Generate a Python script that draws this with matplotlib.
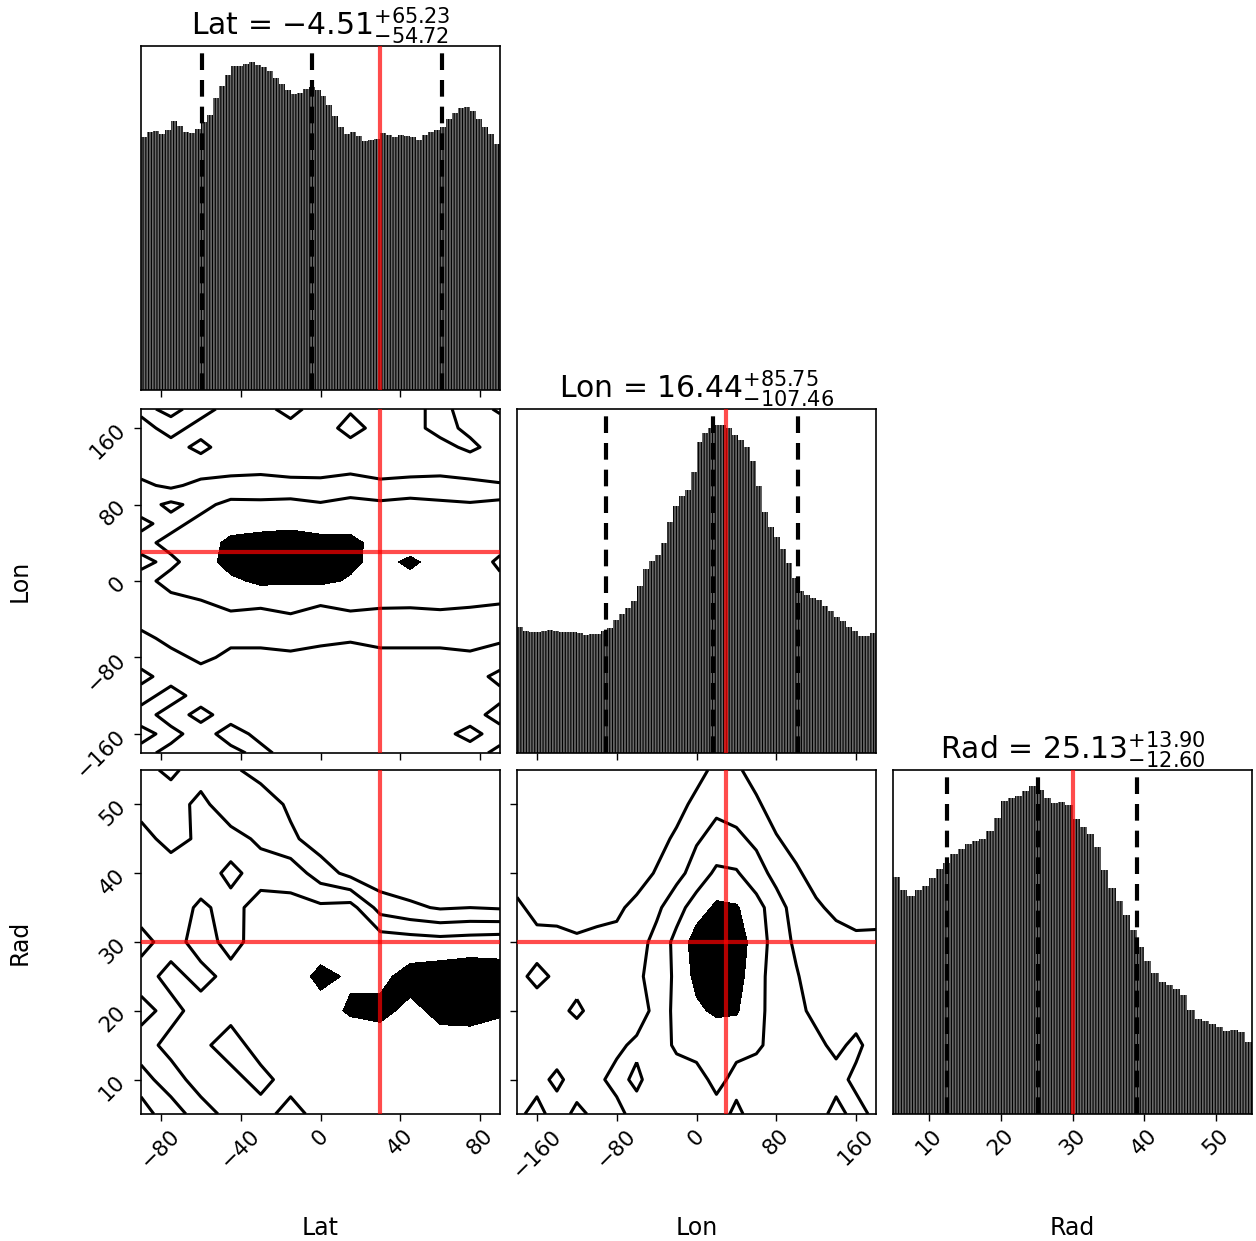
import numpy as np
import matplotlib
matplotlib.use("Agg")
import matplotlib.pyplot as plt

# --------------------------------
# Datos
# --------------------------------
labels = ["Lat", "Lon", "Rad"]
truths = [30, 30, 30]
ranges = [(-90, 90), (-180, 180), (5, 55)]
ticks = [[-80, -40, 0, 40, 80], [-160, -80, 0, 80, 160], [10, 20, 30, 40, 50]]
medians = [-4.51, 16.44, 25.13]
err_lo = [54.72, 107.46, 12.60]
err_hi = [65.23, 85.75, 13.90]

# histogramas 1D (altura relativa por bin)
lat_hist = [253, 258, 259, 256, 260, 269, 264, 258, 257, 261, 268, 275, 292, 304, 315,
            324, 324, 326, 328, 325, 323, 319, 312, 306, 300, 296, 297, 301, 303, 300,
            294, 285, 274, 263, 256, 258, 254, 249, 250, 251, 257, 255, 253, 255, 254,
            253, 250, 255, 258, 260, 263, 271, 277, 282, 283, 279, 271, 263, 256, 246]
lon_hist = [377, 365, 361, 361, 364, 367, 365, 361, 361, 361, 359, 354, 355, 357, 364,
            374, 396, 414, 432, 454, 499, 549, 574, 593, 629, 689, 739, 767, 787, 839,
            929, 957, 971, 979, 979, 971, 951, 934, 914, 874, 799, 719, 674, 644, 609,
            569, 524, 484, 471, 464, 457, 439, 423, 407, 394, 377, 364, 351, 349, 359]
rad_hist = [707, 669, 651, 669, 679, 704, 731, 749, 774, 791, 805, 814, 821, 844, 884,
            934, 941, 949, 964, 977, 967, 941, 927, 929, 921, 879, 857, 834, 797, 729,
            674, 634, 594, 549, 499, 457, 419, 394, 384, 374, 354, 311, 284, 277, 269,
            259, 249, 251, 244, 214]
hists = [lat_hist, lon_hist, rad_hist]

# rejillas de densidad 2D (filas de arriba hacia abajo)
lat_grid = [-90, -75, -60, -45, -30, -15, 0, 15, 30, 45, 60, 75, 90]
lon_grid = [-180, -160, -140, -120, -100, -80, -60, -40, -20, 0, 20, 40, 60, 80, 100, 120, 140, 160, 180]
rad_grid = [5, 10, 15, 20, 25, 30, 35, 40, 45, 50, 55]

# Lat (x) vs Lon (y), filas Lon 180 -> -180
dens_lat_lon = [
    [0.8, 1.2, 0.7, 1.3, 1.2, 0.8, 1.3, 1.1, 1.4, 1.2, 0.8, 1.3, 0.9],
    [1.3, 0.7, 1.3, 1.2, 1.3, 1.2, 1.4, 0.7, 1.3, 1.3, 0.7, 1.2, 1.3],
    [1.2, 1.3, 0.8, 1.4, 1.3, 1.5, 1.4, 1.3, 1.2, 1.4, 1.3, 0.8, 1.4],
    [1.6, 1.7, 1.4, 1.8, 1.7, 1.6, 1.7, 1.8, 1.6, 1.5, 1.7, 1.6, 1.4],
    [2.2, 1.8, 2.3, 2.2, 2.4, 2.3, 2.2, 2.3, 2.2, 2.4, 2.3, 2.2, 2.1],
    [2.6, 3.2, 2.7, 3.3, 3.2, 3.3, 3.1, 3.4, 3.2, 3.3, 3.2, 3.1, 3.3],
    [3.2, 2.7, 3.3, 3.5, 3.6, 3.7, 3.5, 3.6, 3.4, 3.5, 3.4, 3.6, 3.2],
    [2.7, 3.3, 3.4, 4.3, 4.5, 4.6, 4.4, 4.3, 3.6, 3.5, 3.6, 3.5, 3.4],
    [3.2, 2.8, 3.5, 4.4, 4.6, 4.5, 4.3, 4.2, 3.7, 4.2, 3.6, 3.6, 2.8],
    [2.7, 3.3, 3.2, 3.8, 4.2, 4.1, 4.2, 3.9, 3.6, 3.7, 3.5, 3.6, 3.2],
    [2.6, 2.8, 3.0, 3.4, 3.3, 3.5, 3.2, 3.4, 3.3, 3.2, 3.4, 3.3, 3.1],
    [2.4, 2.3, 2.6, 2.7, 2.6, 2.8, 2.5, 2.7, 2.6, 2.7, 2.6, 2.5, 2.6],
    [1.7, 2.3, 2.4, 2.2, 2.3, 2.4, 2.2, 2.1, 2.3, 2.2, 2.3, 2.4, 2.2],
    [1.3, 1.7, 2.2, 1.8, 1.7, 1.8, 1.7, 1.6, 1.7, 1.8, 1.7, 1.8, 1.4],
    [0.8, 1.3, 1.6, 1.2, 1.5, 1.5, 1.6, 1.5, 1.6, 1.5, 1.4, 1.3, 0.8],
    [1.3, 0.7, 1.3, 1.2, 1.6, 1.5, 1.5, 1.6, 1.5, 1.5, 1.6, 1.4, 1.2],
    [0.7, 1.3, 0.8, 1.3, 1.4, 1.5, 1.6, 1.5, 1.6, 1.4, 1.5, 1.3, 0.7],
    [1.2, 0.8, 1.3, 0.7, 1.2, 1.5, 1.5, 1.4, 1.5, 1.5, 1.2, 0.8, 1.3],
    [0.8, 1.2, 1.3, 1.2, 0.8, 1.3, 1.4, 1.5, 1.4, 1.2, 1.3, 1.3, 0.8],
]

# Lat (x) vs Rad (y), filas Rad 55 -> 5
dens_lat_rad = [
    [1.3, 0.8, 1.5, 1.2, 0.6, 0.3, 0.2, 0.1, 0.0, 0.0, 0.0, 0.0, 0.0],
    [1.6, 1.5, 2.3, 1.3, 1.6, 0.8, 0.3, 0.2, 0.1, 0.0, 0.0, 0.0, 0.0],
    [2.4, 1.6, 2.2, 2.4, 1.8, 1.2, 0.5, 0.3, 0.1, 0.1, 0.0, 0.0, 0.0],
    [2.3, 2.6, 2.4, 3.3, 2.5, 2.6, 1.5, 0.7, 0.3, 0.2, 0.1, 0.1, 0.1],
    [2.6, 2.4, 3.2, 2.6, 3.5, 3.3, 3.2, 3.4, 1.6, 1.2, 0.9, 1.0, 0.9],
    [3.3, 2.6, 3.4, 2.7, 3.4, 3.5, 3.6, 3.7, 3.6, 3.5, 3.4, 3.5, 3.6],
    [2.6, 3.3, 2.7, 3.3, 3.5, 3.6, 4.2, 3.9, 3.8, 4.3, 4.5, 4.6, 4.4],
    [3.3, 2.7, 3.4, 3.3, 3.6, 3.4, 3.7, 4.1, 4.2, 3.8, 4.2, 4.4, 4.1],
    [2.6, 3.3, 3.2, 2.6, 3.4, 3.3, 3.6, 3.5, 3.6, 3.4, 3.7, 3.5, 3.6],
    [3.3, 2.6, 3.4, 3.3, 2.7, 3.4, 3.3, 3.6, 3.4, 3.3, 3.4, 3.6, 3.2],
    [2.7, 3.4, 2.6, 3.3, 3.4, 2.6, 3.4, 3.3, 3.4, 3.5, 3.3, 3.6, 3.4],
]

# Lon (x) vs Rad (y), filas Rad 55 -> 5
dens_lon_rad = [
    [0.1, 0.0, 0.0, 0.0, 0.0, 0.0, 0.0, 0.0, 0.2, 0.6, 1.3, 1.2, 0.5, 0.1, 0.0, 0.0, 0.0, 0.0, 0.0],
    [0.2, 0.1, 0.0, 0.0, 0.0, 0.0, 0.0, 0.2, 0.6, 1.3, 1.8, 1.6, 1.2, 0.4, 0.1, 0.0, 0.0, 0.0, 0.0],
    [0.2, 0.1, 0.1, 0.0, 0.0, 0.0, 0.2, 0.6, 1.2, 1.9, 2.3, 2.2, 1.8, 1.1, 0.5, 0.1, 0.0, 0.0, 0.0],
    [0.3, 0.2, 0.1, 0.1, 0.1, 0.2, 0.5, 1.1, 1.7, 2.4, 3.2, 3.1, 2.4, 1.7, 1.2, 0.5, 0.2, 0.1, 0.1],
    [1.3, 0.5, 0.3, 0.4, 0.5, 0.8, 1.3, 1.8, 2.6, 3.5, 4.2, 4.1, 3.4, 2.4, 1.6, 1.2, 0.7, 0.4, 0.3],
    [1.4, 1.5, 1.6, 1.2, 1.4, 1.3, 1.6, 2.3, 3.3, 4.5, 4.8, 4.6, 3.5, 2.6, 1.8, 1.3, 1.5, 1.3, 1.4],
    [1.3, 0.7, 1.2, 1.4, 1.3, 1.5, 1.8, 2.4, 3.2, 4.3, 4.6, 4.4, 3.4, 2.5, 2.1, 1.4, 1.6, 1.7, 1.5],
    [1.4, 1.6, 1.3, 0.8, 1.4, 1.6, 1.5, 2.3, 3.3, 3.8, 4.2, 4.1, 3.3, 2.6, 2.2, 1.8, 1.3, 1.6, 1.4],
    [1.6, 1.3, 1.5, 1.7, 1.6, 1.8, 2.2, 2.4, 3.2, 3.4, 3.2, 3.3, 3.2, 2.6, 2.3, 2.2, 1.8, 2.2, 1.6],
    [1.5, 1.7, 2.2, 1.6, 1.8, 2.3, 1.8, 2.5, 2.4, 2.6, 3.3, 2.7, 2.4, 2.8, 2.3, 2.6, 2.3, 1.8, 1.6],
    [1.8, 2.3, 1.6, 2.2, 1.8, 1.7, 2.4, 2.3, 2.8, 2.4, 2.6, 3.2, 2.6, 2.3, 2.2, 2.4, 1.7, 2.3, 1.8],
]

grids = {(1, 0): (lat_grid, lon_grid[::-1], dens_lat_lon),
         (2, 0): (lat_grid, rad_grid[::-1], dens_lat_rad),
         (2, 1): (lon_grid, rad_grid[::-1], dens_lon_rad)}

# --------------------------------
# Figura
# --------------------------------
plt.rcParams["hatch.linewidth"] = 0.8

W, H = 1256, 1241
fig = plt.figure(figsize=(W / 100, H / 100), dpi=100)

lefts = [141, 517, 893]
tops = [46, 409, 770]
aw, ah = 359, 344

TICK_FS = 15.5
LABEL_FS = 17
TITLE_FS = 21.5

for row in range(3):
    for col in range(row + 1):
        ax = fig.add_axes([lefts[col] / W, 1 - (tops[row] + ah) / H, aw / W, ah / H])
        for s in ax.spines.values():
            s.set_linewidth(1.2)
        ax.set_xlim(*ranges[col])
        ax.set_xticks(ticks[col])
        ax.tick_params(labelsize=TICK_FS, width=1.0, length=5)

        if row == col:
            # histograma 1D
            h = hists[col]
            lo, hi = ranges[col]
            edges = np.linspace(lo, hi, len(h) + 1)
            centers = 0.5 * (edges[1:] + edges[:-1])
            ax.bar(centers, h, width=edges[1] - edges[0], color="#6a6a6a",
                   edgecolor="black", linewidth=0, hatch="||||||")
            ax.set_ylim(0, 1.05 * max(h))
            ax.set_yticks([])
            for q in [medians[col] - err_lo[col], medians[col], medians[col] + err_hi[col]]:
                ax.axvline(q, color="black", lw=3, linestyle=(0, (4.0, 2.4)), zorder=5)
            ax.axvline(truths[col], color="red", lw=3, alpha=0.7, zorder=6)
            title = "{0} = ${1:.2f}_{{-{2:.2f}}}^{{+{3:.2f}}}$".format(
                labels[col], medians[col], err_lo[col], err_hi[col])
            ax.set_title(title, fontsize=TITLE_FS, pad=5)
        else:
            xg, yg, z = grids[(row, col)]
            ax.contourf(xg, yg, z, levels=[4, 10], colors="black")
            ax.contour(xg, yg, z, levels=[1, 2, 3], colors="black", linewidths=2.2)
            ax.set_ylim(*ranges[row])
            ax.axvline(truths[col], color="red", lw=3, alpha=0.7, zorder=6)
            ax.axhline(truths[row], color="red", lw=3, alpha=0.7, zorder=6)
            ax.set_yticks(ticks[row])
            if col == 0:
                for t in ax.get_yticklabels():
                    t.set_rotation(45)
            else:
                ax.set_yticklabels([])

        if row == 2:
            for t in ax.get_xticklabels():
                t.set_rotation(45)
        else:
            ax.set_xticklabels([])

# etiquetas de ejes
for col in range(3):
    fig.text((lefts[col] + aw / 2) / W, 1 - 1228 / H, labels[col],
             ha="center", va="center", fontsize=LABEL_FS)
for row in [1, 2]:
    fig.text(20 / W, 1 - (tops[row] + ah / 2) / H, labels[row], rotation=90,
             ha="center", va="center", fontsize=LABEL_FS)

fig.savefig("out.png", dpi=100)
